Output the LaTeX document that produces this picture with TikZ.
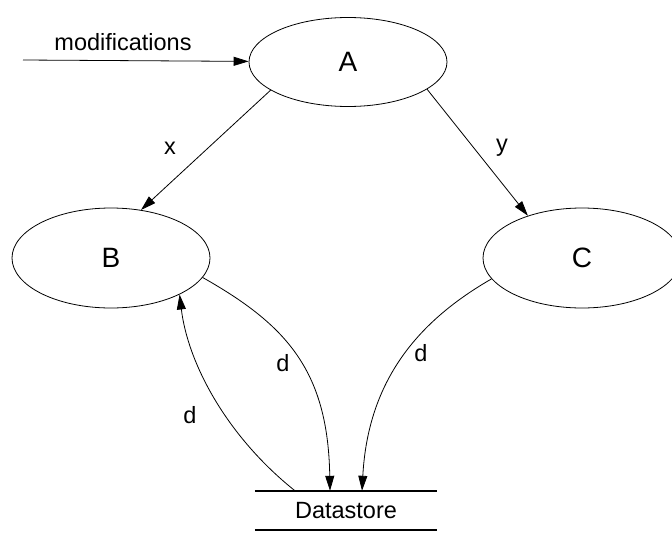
\documentclass[tikz,border=0pt]{standalone}
\usepackage{fontspec}
\setmainfont{Liberation Sans}
\usetikzlibrary{shapes.geometric, arrows.meta, positioning}
\tikzset{
    process/.style={ellipse, draw, line width=0.8pt, minimum width=198pt, minimum height=100pt, font=\fontsize{28}{32}\selectfont},
    store/.style={rectangle, inner sep=0pt, minimum width=182pt, minimum height=39pt, font=\fontsize{23.5}{28}\selectfont},
    storeline/.style={line width=2.2pt},
    arrow/.style={-{Triangle[length=15pt, width=9pt]}, line width=0.8pt},
    flowlabel/.style={font=\fontsize{23.5}{28}\selectfont},
}

\begin{document}
\begin{tikzpicture}[x=1pt, y=1pt]
    \clip (0,0) rectangle (672,-533);

    % Processes
    \node[process, minimum height=89pt] (A) at (348,-62) {A};
    \node[process] (B) at (111,-258) {B};
    \node[process] (C) at (582,-258) {C};

    % Data store
    \node[store] (ds) at (346,-510.5) {Datastore};
    \draw[storeline] (ds.north west) -- (ds.north east);
    \draw[storeline] (ds.south west) -- (ds.south east);

    % External input
    \coordinate (src) at (23,-60);
    \node[flowlabel] (modlbl) at (123,-42) {modifications};
    \draw[arrow] (src) -- (A);

    % Flows between processes
    \draw[arrow] (A.200) -- (B.58);
    \draw[arrow] (A.341) -- (C.142);
    \node[flowlabel] (xlbl) at (170,-148) {x};
    \node[flowlabel] (ylbl) at (502,-148) {y};

    % Flows to and from the store
    \draw[arrow] (B.348) .. controls +(83,-47) and +(-2,121) .. ([xshift=-16pt]ds.north);
    \draw[arrow] (C.193) .. controls +(-73,-42) and +(6,111) .. ([xshift=16pt]ds.north);
    \draw[arrow] ([xshift=-51pt]ds.north) .. controls +(-70,56) and +(8,-67) .. (B.332);
    \node[flowlabel] (dlbl1) at (283,-363) {d};
    \node[flowlabel] (dlbl2) at (190,-415) {d};
    \node[flowlabel] (dlbl3) at (421,-353) {d};
\end{tikzpicture}
\end{document}
